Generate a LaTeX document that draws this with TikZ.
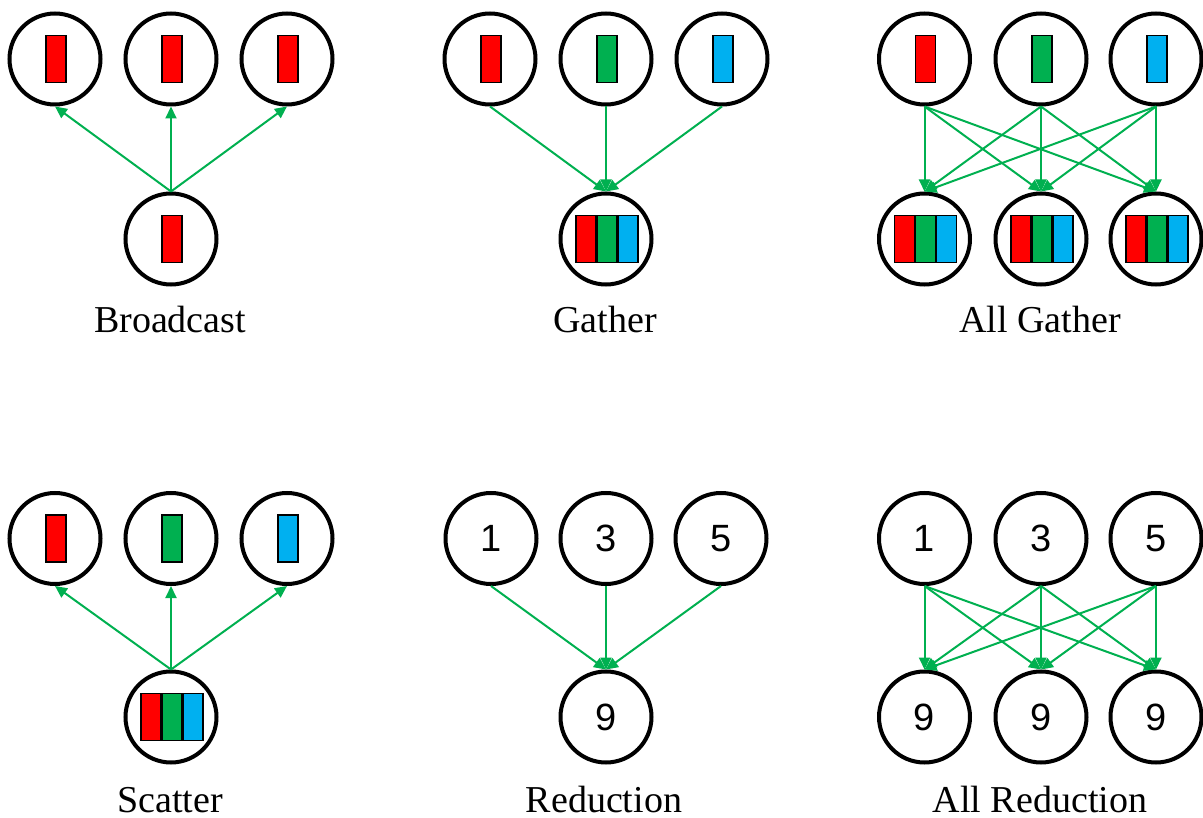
\documentclass[tikz,border=0pt]{standalone}
\usepackage{fontspec}
\setmainfont{Liberation Serif}
\newfontfamily\numfont{Liberation Sans}
\usetikzlibrary{arrows.meta}
\definecolor{pgreen}{HTML}{00B050}
\definecolor{pred}{HTML}{FF0000}
\definecolor{pblue}{HTML}{00B0F0}
\tikzset{
  proc/.style={circle, draw=black, line width=4pt, minimum size=91pt, inner sep=0pt,
    font=\numfont\fontsize{38}{40}\selectfont},
  bar/.style={draw=black, line width=1.2pt, minimum width=20pt, minimum height=47pt, inner sep=0pt},
  flow/.style={draw=pgreen, line width=2pt, -{Triangle[length=12pt,width=11pt]}},
  caption/.style={font=\fontsize{38}{40}\selectfont, anchor=base, inner sep=0pt, outer sep=0pt},
}
\begin{document}
\begin{tikzpicture}[x=1pt,y=-1pt]
\useasboundingbox (0,0) rectangle (1203,818);

% ---------- Broadcast ----------
\node[proc] (bc1) at (55,59) {};
\node[proc] (bc2) at (171,59) {};
\node[proc] (bc3) at (287,59) {};
\node[proc] (bc0) at (171,239) {};
\foreach \n in {bc1,bc2,bc3,bc0} \node[bar, fill=pred] (\n-bar) at ([xshift=1pt]\n.center) {};
\foreach \n in {bc1,bc2,bc3} \draw[flow] (bc0.north) -- (\n.south);
\node[caption] (lbc) at (170,333) {Broadcast};

% ---------- Gather ----------
\node[proc] (g1) at (490,59) {};
\node[proc] (g2) at (606,59) {};
\node[proc] (g3) at (722,59) {};
\node[proc] (g0) at (606,239) {};
\node[bar, fill=pred] (g1-bar) at ([xshift=1pt]g1.center) {};
\node[bar, fill=pgreen] (g2-bar) at ([xshift=1pt]g2.center) {};
\node[bar, fill=pblue] (g3-bar) at ([xshift=1pt]g3.center) {};
\node[bar, fill=pred] (g0-r) at ([xshift=-20pt]g0.center) {};
\node[bar, fill=pgreen] (g0-g) at ([xshift=1pt]g0.center) {};
\node[bar, fill=pblue] (g0-b) at ([xshift=22pt]g0.center) {};
\foreach \n in {g1,g2,g3} \draw[flow] (\n.south) -- (g0.north);
\node[caption] (lg) at (605,333) {Gather};

% ---------- All Gather ----------
\foreach \i/\x in {1/924.5,2/1041,3/1156} {
  \node[proc] (at\i) at (\x,59) {};
  \node[proc] (ab\i) at (\x,239) {};
  \node[bar, fill=pred] (ab\i-r) at ([xshift=-20pt]ab\i.center) {};
  \node[bar, fill=pgreen] (ab\i-g) at ([xshift=1pt]ab\i.center) {};
  \node[bar, fill=pblue] (ab\i-b) at ([xshift=22pt]ab\i.center) {};
}
\node[bar, fill=pred] (at1-bar) at ([xshift=1pt]at1.center) {};
\node[bar, fill=pgreen] (at2-bar) at ([xshift=1pt]at2.center) {};
\node[bar, fill=pblue] (at3-bar) at ([xshift=1pt]at3.center) {};
\foreach \i in {1,2,3} \foreach \j in {1,2,3} \draw[flow] (at\i.south) -- (ab\j.north);
\node[caption] (lag) at (1040,333) {All Gather};

% ---------- Scatter ----------
\node[proc] (s1) at (55,538.5) {};
\node[proc] (s2) at (171,538.5) {};
\node[proc] (s3) at (287,538.5) {};
\node[proc] (s0) at (171,717) {};
\node[bar, fill=pred] (s1-bar) at ([xshift=1pt]s1.center) {};
\node[bar, fill=pgreen] (s2-bar) at ([xshift=1pt]s2.center) {};
\node[bar, fill=pblue] (s3-bar) at ([xshift=1pt]s3.center) {};
\node[bar, fill=pred] (s0-r) at ([xshift=-20pt]s0.center) {};
\node[bar, fill=pgreen] (s0-g) at ([xshift=1pt]s0.center) {};
\node[bar, fill=pblue] (s0-b) at ([xshift=22pt]s0.center) {};
\foreach \n in {s1,s2,s3} \draw[flow] (s0.north) -- (\n.south);
\node[caption] (ls) at (170,812) {Scatter};

% ---------- Reduction ----------
\node[proc] (r1) at (491,538.5) {1};
\node[proc] (r2) at (606,538.5) {3};
\node[proc] (r3) at (721,538.5) {5};
\node[proc] (r0) at (606,717) {9};
\foreach \n in {r1,r2,r3} \draw[flow] (\n.south) -- (r0.north);
\node[caption] (lr) at (604,812) {Reduction};

% ---------- All Reduction ----------
\node[proc] (art1) at (924.5,538.5) {1};
\node[proc] (art2) at (1041,538.5) {3};
\node[proc] (art3) at (1156,538.5) {5};
\foreach \i/\x in {1/924.5,2/1041,3/1156} \node[proc] (arb\i) at (\x,717) {9};
\foreach \i in {1,2,3} \foreach \j in {1,2,3} \draw[flow] (art\i.south) -- (arb\j.north);
\node[caption] (lar) at (1040,812) {All Reduction};
\end{tikzpicture}
\end{document}
